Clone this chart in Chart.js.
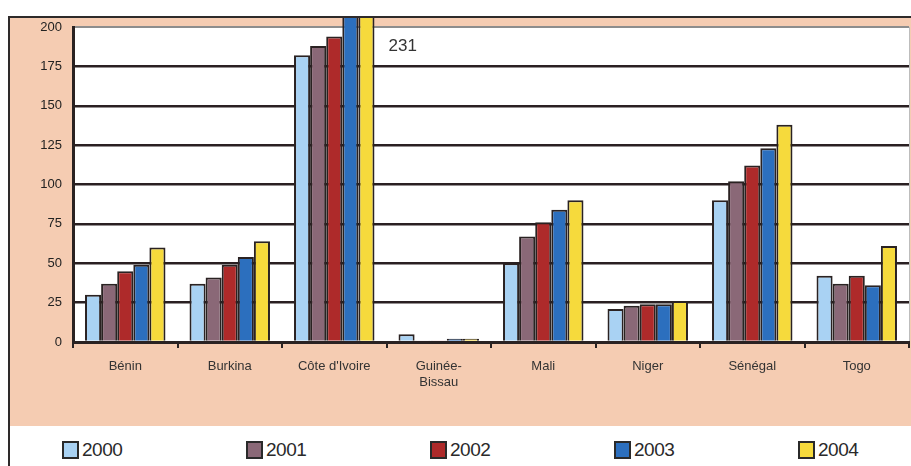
<!DOCTYPE html>
<html>
<head>
<meta charset="utf-8">
<script src="https://cdn.jsdelivr.net/npm/chart.js@4.4.1/dist/chart.umd.min.js"></script>
<style>
    html, body { margin: 0; padding: 0; background: #ffffff; overflow: hidden; width: 911px; height: 466px; }
    #frame {
        position: absolute; left: 8px; top: 16px; width: 920px; height: 470px;
        border-left: 2px solid #2e2a2a; border-top: 2px solid #2e2a2a;
        background: #ffffff;
    }
    #peach { position: absolute; left: 0; top: 0; width: 901px; height: 408px; background: #f5ccb2; }
    #chart { position: absolute; left: 0; top: 0; }
    #legend { position: absolute; left: 52px; top: 420px; height: 24px; display: flex; }
    .item { width: 184px; display: flex; align-items: center; font-family: 'Liberation Sans', Arial, sans-serif; font-size: 19px; color: #2a2a2a; letter-spacing: -0.5px; }
    .box { width: 13px; height: 14px; border: 2px solid #2a2a2a; margin-right: 3px; }
</style>
</head>
<body>
<div id="frame">
    <div id="peach"><canvas id="chart" width="901" height="408"></canvas></div>
    <div id="legend"></div>
</div>
<script>
// Data
const categories = ['Bénin', 'Burkina', "Côte d'Ivoire", ['Guinée-', 'Bissau'], 'Mali', 'Niger', 'Sénégal', 'Togo'];
const years = ['2000', '2001', '2002', '2003', '2004'];
const v2000 = [30, 37, 182, 5, 50, 21, 90, 42];
const v2001 = [37, 41, 188, 1, 67, 23, 102, 37];
const v2002 = [45, 49, 194, 1, 76, 24, 112, 42];
const v2003 = [49, 54, 215, 2, 84, 24, 123, 36];
const v2004 = [60, 64, 231, 2, 90, 26, 138, 61];
const yTicks = [0, 25, 50, 75, 100, 125, 150, 175, 200];
const calloutText = '231';

const colors = ['#a9d2f3', '#8a6877', '#ae2a2a', '#2c6fbe', '#f6da3c'];
const series = [v2000, v2001, v2002, v2003, v2004];

const plotBg = {
    id: 'plotBg',
    beforeDraw(chart) {
        const { ctx, chartArea: a } = chart;
        ctx.save();
        ctx.fillStyle = '#ffffff';
        ctx.fillRect(a.left, a.top, a.right - a.left, a.bottom - a.top);
        ctx.strokeStyle = '#bdbdbd';
        ctx.lineWidth = 1;
        ctx.beginPath();
        ctx.moveTo(a.right + 0.5, a.top);
        ctx.lineTo(a.right + 0.5, a.bottom);
        ctx.stroke();
        ctx.restore();
    },
    afterDatasetsDraw(chart) {
        // value callout for the bar that leaves the scale
        const meta = chart.getDatasetMeta(4);
        const bar = meta.data[2];
        const { ctx, chartArea: a } = chart;
        ctx.save();
        ctx.fillStyle = '#333333';
        ctx.font = '17px "Liberation Sans", Arial, sans-serif';
        ctx.textBaseline = 'middle';
        ctx.fillText(calloutText, bar.x + bar.width / 2 + 14, a.top + 19);
        ctx.restore();
    }
};

const chart = new Chart(document.getElementById('chart').getContext('2d'), {
    type: 'bar',
    data: {
        labels: categories,
        datasets: series.map((s, i) => ({
            label: years[i],
            data: s,
            backgroundColor: colors[i],
            borderColor: '#2a2222',
            borderWidth: 2,
            borderSkipped: 'bottom',
            barPercentage: 1.0,
            categoryPercentage: 0.77,
            clip: { left: 0, top: false, right: 0, bottom: 0 }
        }))
    },
    options: {
        responsive: false,
        animation: false,
        layout: { padding: { top: 9, right: 2, left: 0, bottom: 0 } },
        plugins: {
            legend: { display: false },
            tooltip: { enabled: false }
        },
        scales: {
            x: {
                grid: {
                    offset: true,
                    drawOnChartArea: false,
                    color: '#2a2222',
                    lineWidth: 2,
                    tickLength: 6
                },
                border: { color: '#2a2222', width: 3 },
                ticks: {
                    color: '#333333',
                    padding: 11,
                    maxRotation: 0,
                    autoSkip: false,
                    font: { family: "'Liberation Sans', Arial, sans-serif", size: 13 }
                },
                afterFit(scale) {
                    scale.height = 84;
                    scale.paddingLeft = 0;
                    scale.paddingRight = 0;
                }
            },
            y: {
                min: 0,
                max: 200,
                afterBuildTicks(scale) { scale.ticks = yTicks.map(v => ({ value: v })); },
                grid: {
                    drawTicks: false,
                    color: ctx => (ctx.tick && ctx.tick.value === 200 ? '#8d8d8d' : '#2a2022'),
                    lineWidth: ctx => (ctx.tick && ctx.tick.value === 200 ? 2 : 2.5)
                },
                border: { color: '#2a2222', width: 3 },
                ticks: {
                    color: '#222222',
                    padding: 11,
                    font: { family: "'Liberation Sans', Arial, sans-serif", size: 13 }
                },
                afterFit(scale) {
                    scale.width = 63;
                    scale.paddingTop = 0;
                    scale.paddingBottom = 0;
                }
            }
        }
    },
    plugins: [plotBg]
});

// HTML legend
const legendEl = document.getElementById('legend');
years.forEach((y, i) => {
    const item = document.createElement('div');
    item.className = 'item';
    const box = document.createElement('span');
    box.className = 'box';
    box.style.background = colors[i];
    const txt = document.createElement('span');
    txt.textContent = y;
    item.appendChild(box);
    item.appendChild(txt);
    legendEl.appendChild(item);
});
</script>
</body>
</html>
